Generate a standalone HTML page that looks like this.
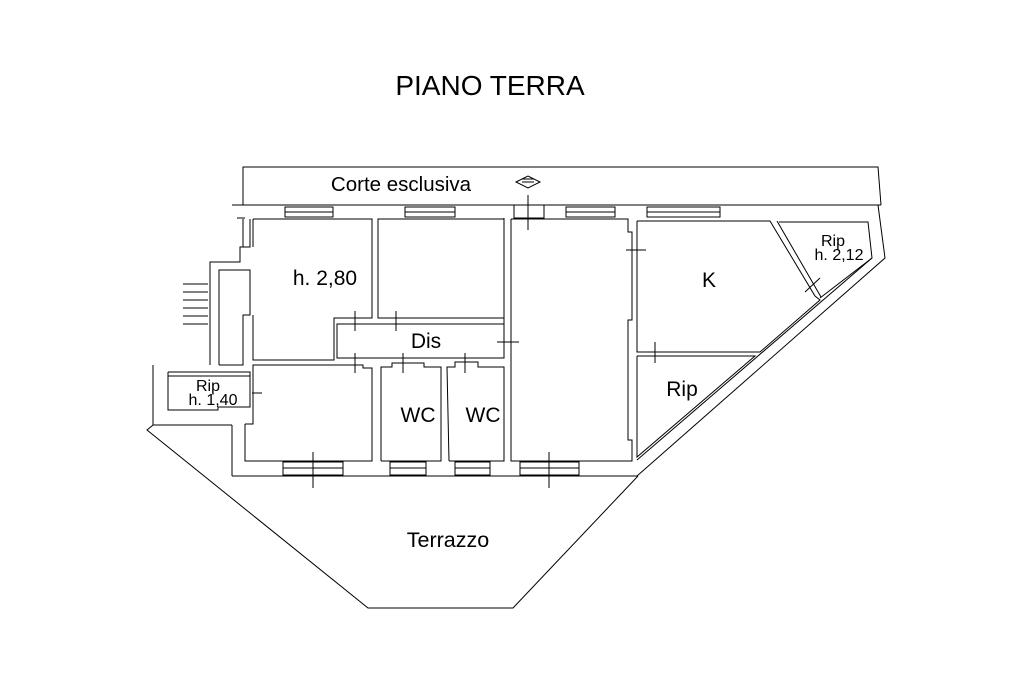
<!DOCTYPE html>
<html><head><style>
html,body{margin:0;padding:0;background:#fff;}
svg{display:block}
text{font-family:"Liberation Sans",Arial,sans-serif;fill:#000}
</style></head><body>
<svg width="1024" height="682" viewBox="0 0 1024 682" xmlns="http://www.w3.org/2000/svg">
<rect width="1024" height="682" fill="#fff"/>
<g fill="none" stroke="#000" stroke-width="1">
<polyline points="243,205 243,167 878,167 881,205"/>
<line x1="232" y1="205" x2="881" y2="205"/>
<polyline points="878,205 885,258 637,476"/>
<polyline points="638,476 513,608 368,608 147,430 153,425 232,425"/>
<line x1="153" y1="365" x2="153" y2="425"/>
<line x1="232" y1="476" x2="638" y2="476"/>
<line x1="232" y1="425" x2="232" y2="476"/>
<line x1="237" y1="218" x2="245" y2="218"/>
<polyline points="250,219 250,247 240,247 240,262 210,262 210,365"/>
<polyline points="243,219 243,247"/>
<polyline points="219,365 219,270 250,270 250,315 243,315 243,365 219,365"/>
<polyline points="168,372 168,410 218,410 218,407 250,407 250,376 168,376"/>
<polyline points="168,372 250,372 250,376"/>
<line x1="252" y1="393" x2="262" y2="393"/>
<g><line x1="183" y1="284" x2="208" y2="284"/><line x1="183" y1="292" x2="208" y2="292"/><line x1="183" y1="300" x2="208" y2="300"/><line x1="183" y1="308" x2="208" y2="308"/><line x1="183" y1="316" x2="208" y2="316"/><line x1="183" y1="324" x2="208" y2="324"/></g>
<polyline points="253,219 372,219 372,318 334,318 334,360 253,360 253,315"/>
<line x1="253" y1="219" x2="253" y2="247"/>
<rect x="378" y="219" width="126" height="99"/>
<rect x="337" y="324" width="167" height="34"/>
<polyline points="245,424 245,461 372,461 372,368 363,368 363,365 253,365 253,424 245,424"/>
<polyline points="381,461 381,367 392,367 392,363 424,363 424,367 441,367 441,461 381,461"/>
<polyline points="449,461 447,367 455,367 455,362 478,362 478,367 504,367 504,461 449,461"/>
<polyline points="511,219 628,219 628,232 632,232 632,320 628,320 628,440 632,440 632,461 511,461 511,219"/>
<line x1="504" y1="218" x2="504" y2="324"/>
<polyline points="637,221 770,221 815,296 820,300 760,352 637,352 637,221"/>
<polyline points="777,221 821,297"/>
<polyline points="779,222 868,222 872,258 820,298"/>
<polyline points="637,356 755,356 637,457 637,356"/>
<line x1="872" y1="258" x2="637" y2="460"/>
<g><rect x="285" y="207" width="48" height="10"/><line x1="285" y1="212" x2="333" y2="212"/>
<rect x="405" y="207" width="50" height="10"/><line x1="405" y1="212" x2="455" y2="212"/>
<rect x="566" y="207" width="49" height="10"/><line x1="566" y1="212" x2="615" y2="212"/>
<rect x="647" y="207" width="73" height="10"/><line x1="647" y1="212" x2="720" y2="212"/>
<rect x="514" y="205" width="30" height="13"/>
<rect x="283" y="462" width="60" height="13"/><line x1="283" y1="468" x2="343" y2="468"/>
<rect x="390" y="462" width="36" height="13"/><line x1="390" y1="468" x2="426" y2="468"/>
<rect x="455" y="462" width="35" height="13"/><line x1="455" y1="468" x2="490" y2="468"/>
<rect x="520" y="462" width="59" height="13"/><line x1="520" y1="468" x2="579" y2="468"/></g>
<line x1="313" y1="452" x2="313" y2="488"/><line x1="549" y1="452" x2="549" y2="488"/>
<line x1="528" y1="195" x2="528" y2="230"/>
<line x1="355" y1="311" x2="355" y2="331"/><line x1="396" y1="311" x2="396" y2="331"/>
<line x1="355" y1="353" x2="355" y2="373"/><line x1="403" y1="353" x2="403" y2="373"/>
<line x1="465" y1="353" x2="465" y2="373"/>
<line x1="497" y1="342" x2="519" y2="342"/>
<line x1="626" y1="250" x2="646" y2="250"/>
<line x1="655" y1="342" x2="655" y2="363"/>
<line x1="805" y1="292" x2="820" y2="278"/>
<path d="M516,182 L528,176 L540,182 L528,188 Z M522,179 L534,179 M522,182 L534,182"/>
</g>
<text x="490" y="95" font-size="28" text-anchor="middle">PIANO TERRA</text>
<text x="401" y="191" font-size="20.5" text-anchor="middle">Corte esclusiva</text>
<text x="325" y="285" font-size="21" text-anchor="middle">h. 2,80</text>
<text x="426" y="348" font-size="21" text-anchor="middle">Dis</text>
<text x="418" y="422" font-size="21" text-anchor="middle">WC</text>
<text x="483" y="422" font-size="21" text-anchor="middle">WC</text>
<text x="709" y="287" font-size="21" text-anchor="middle">K</text>
<text x="682" y="396" font-size="21" text-anchor="middle">Rip</text>
<text x="448" y="547" font-size="21.5" text-anchor="middle">Terrazzo</text>
<text x="208" y="391" font-size="16" text-anchor="middle">Rip</text>
<text x="213" y="405" font-size="16" text-anchor="middle">h. 1,40</text>
<text x="833" y="246" font-size="16" text-anchor="middle">Rip</text>
<text x="839" y="260" font-size="16" text-anchor="middle">h. 2,12</text>
</svg>
</body></html>
